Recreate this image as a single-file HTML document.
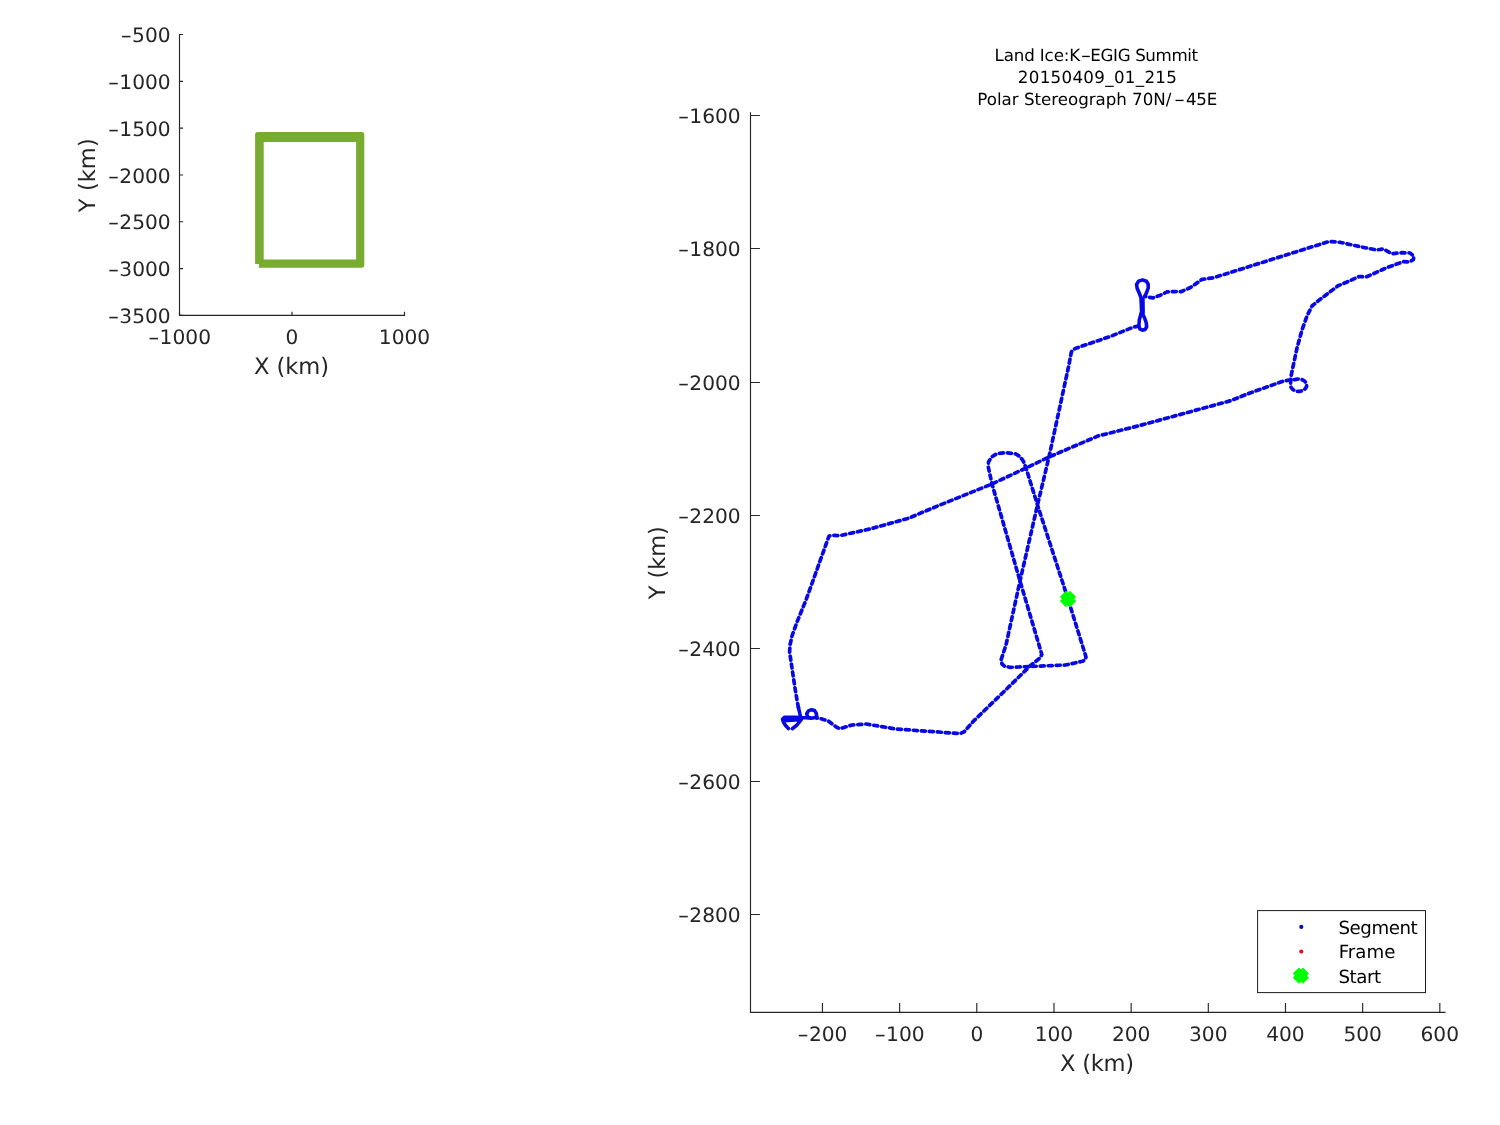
<!DOCTYPE html>
<html lang="en"><head><meta charset="utf-8"><title>Land Ice:K-EGIG Summit 20150409_01_215</title>
<style>
html,body{margin:0;padding:0;background:#fff;}
body{width:1500px;height:1125px;overflow:hidden;}
svg{display:block;will-change:transform;}
text{font-family:"DejaVu Sans", "Liberation Sans", sans-serif;text-rendering:geometricPrecision;}
.tk{font-size:19.8px;fill:#262626;}
.lb{font-size:22.6px;fill:#262626;}
.tt{font-size:16.7px;fill:#000;}
.lg{font-size:18.2px;fill:#000;}
.ax{stroke:#262626;stroke-width:1.15;fill:none;}
</style></head><body>
<svg width="1500" height="1125" viewBox="0 0 1500 1125">
<rect x="0" y="0" width="1500" height="1125" fill="#ffffff"/>
<g id="overview">
<path class="ax" d="M179.5 33.9 V315.4 H405.1"/>
<path class="ax" d="M179.5 34.50 h3.6M179.5 81.32 h3.6M179.5 128.13 h3.6M179.5 174.95 h3.6M179.5 221.77 h3.6M179.5 268.58 h3.6M179.5 315.40 h3.6M179.50 315.4 v-3.6M292.00 315.4 v-3.6M404.50 315.4 v-3.6"/>
<text class="tk" y="42.1"><tspan x="120.5" textLength="11.6" lengthAdjust="spacingAndGlyphs">-</tspan><tspan x="132.1" textLength="38.5" lengthAdjust="spacingAndGlyphs">500</tspan></text>
<text class="tk" y="89.0"><tspan x="107.7" textLength="11.6" lengthAdjust="spacingAndGlyphs">-</tspan><tspan x="119.3" textLength="51.4" lengthAdjust="spacingAndGlyphs">1000</tspan></text>
<text class="tk" y="135.8"><tspan x="107.7" textLength="11.6" lengthAdjust="spacingAndGlyphs">-</tspan><tspan x="119.3" textLength="51.4" lengthAdjust="spacingAndGlyphs">1500</tspan></text>
<text class="tk" y="182.6"><tspan x="107.7" textLength="11.6" lengthAdjust="spacingAndGlyphs">-</tspan><tspan x="119.3" textLength="51.4" lengthAdjust="spacingAndGlyphs">2000</tspan></text>
<text class="tk" y="229.4"><tspan x="107.7" textLength="11.6" lengthAdjust="spacingAndGlyphs">-</tspan><tspan x="119.3" textLength="51.4" lengthAdjust="spacingAndGlyphs">2500</tspan></text>
<text class="tk" y="276.2"><tspan x="107.7" textLength="11.6" lengthAdjust="spacingAndGlyphs">-</tspan><tspan x="119.3" textLength="51.4" lengthAdjust="spacingAndGlyphs">3000</tspan></text>
<text class="tk" y="323.0"><tspan x="107.7" textLength="11.6" lengthAdjust="spacingAndGlyphs">-</tspan><tspan x="119.3" textLength="51.4" lengthAdjust="spacingAndGlyphs">3500</tspan></text>
<text class="tk" y="344.4"><tspan x="148.0" textLength="11.6" lengthAdjust="spacingAndGlyphs">-</tspan><tspan x="159.6" textLength="51.4" lengthAdjust="spacingAndGlyphs">1000</tspan></text>
<text class="tk" x="285.6" y="344.4" textLength="12.8" lengthAdjust="spacingAndGlyphs">0</text>
<text class="tk" x="378.8" y="344.4" textLength="51.4" lengthAdjust="spacingAndGlyphs">1000</text>
<text class="lb" y="373.8"><tspan x="253.89" textLength="75.17" lengthAdjust="spacing">X (km)</tspan></text>
<text class="lb" transform="translate(94.8 0) rotate(-90)" y="0"><tspan x="-212.16" textLength="73.88" lengthAdjust="spacing">Y (km)</tspan></text>
<path fill="#77AC30" fill-rule="evenodd" d="M257.7 132.1 H361.7 Q364.3 132.1 364.3 134.7 V265.1 Q364.3 267.7 361.7 267.7 H258.9 V263.9 H255.1 V134.7 Q255.1 132.1 257.7 132.1 Z M263.7 141.9 V259.4 H356.1 V141.9 Z"/>
</g>
<g id="map">
<path class="ax" d="M750.5 112.2 V1012.4 H1445.6"/>
<path class="ax" d="M750.5 115.50 h9.4M750.5 248.45 h9.4M750.5 382.45 h9.4M750.5 515.45 h9.4M750.5 648.45 h9.4M750.5 781.45 h9.4M750.5 914.45 h9.4M822.46 1012.4 v-9.4M899.63 1012.4 v-9.4M976.80 1012.4 v-9.4M1053.97 1012.4 v-9.4M1131.14 1012.4 v-9.4M1208.31 1012.4 v-9.4M1285.48 1012.4 v-9.4M1362.65 1012.4 v-9.4M1439.82 1012.4 v-9.4"/>
<text class="tk" y="123.2"><tspan x="677.7" textLength="11.6" lengthAdjust="spacingAndGlyphs">-</tspan><tspan x="689.3" textLength="51.4" lengthAdjust="spacingAndGlyphs">1600</tspan></text>
<text class="tk" y="256.1"><tspan x="677.7" textLength="11.6" lengthAdjust="spacingAndGlyphs">-</tspan><tspan x="689.3" textLength="51.4" lengthAdjust="spacingAndGlyphs">1800</tspan></text>
<text class="tk" y="390.1"><tspan x="677.7" textLength="11.6" lengthAdjust="spacingAndGlyphs">-</tspan><tspan x="689.3" textLength="51.4" lengthAdjust="spacingAndGlyphs">2000</tspan></text>
<text class="tk" y="523.1"><tspan x="677.7" textLength="11.6" lengthAdjust="spacingAndGlyphs">-</tspan><tspan x="689.3" textLength="51.4" lengthAdjust="spacingAndGlyphs">2200</tspan></text>
<text class="tk" y="656.1"><tspan x="677.7" textLength="11.6" lengthAdjust="spacingAndGlyphs">-</tspan><tspan x="689.3" textLength="51.4" lengthAdjust="spacingAndGlyphs">2400</tspan></text>
<text class="tk" y="789.1"><tspan x="677.7" textLength="11.6" lengthAdjust="spacingAndGlyphs">-</tspan><tspan x="689.3" textLength="51.4" lengthAdjust="spacingAndGlyphs">2600</tspan></text>
<text class="tk" y="922.1"><tspan x="677.7" textLength="11.6" lengthAdjust="spacingAndGlyphs">-</tspan><tspan x="689.3" textLength="51.4" lengthAdjust="spacingAndGlyphs">2800</tspan></text>
<text class="tk" y="1040.8"><tspan x="797.3" textLength="11.6" lengthAdjust="spacingAndGlyphs">-</tspan><tspan x="808.9" textLength="38.5" lengthAdjust="spacingAndGlyphs">200</tspan></text>
<text class="tk" y="1040.8"><tspan x="874.5" textLength="11.6" lengthAdjust="spacingAndGlyphs">-</tspan><tspan x="886.1" textLength="38.5" lengthAdjust="spacingAndGlyphs">100</tspan></text>
<text class="tk" x="970.4" y="1040.8" textLength="12.8" lengthAdjust="spacingAndGlyphs">0</text>
<text class="tk" x="1034.7" y="1040.8" textLength="38.5" lengthAdjust="spacingAndGlyphs">100</text>
<text class="tk" x="1111.9" y="1040.8" textLength="38.5" lengthAdjust="spacingAndGlyphs">200</text>
<text class="tk" x="1189.0" y="1040.8" textLength="38.5" lengthAdjust="spacingAndGlyphs">300</text>
<text class="tk" x="1266.2" y="1040.8" textLength="38.5" lengthAdjust="spacingAndGlyphs">400</text>
<text class="tk" x="1343.4" y="1040.8" textLength="38.5" lengthAdjust="spacingAndGlyphs">500</text>
<text class="tk" x="1420.5" y="1040.8" textLength="38.5" lengthAdjust="spacingAndGlyphs">600</text>
<text class="lb" y="1071"><tspan x="1060.09" textLength="73.96" lengthAdjust="spacing">X (km)</tspan></text>
<text class="lb" transform="translate(664.8 0) rotate(-90)" y="0"><tspan x="-599.36" textLength="73.27" lengthAdjust="spacing">Y (km)</tspan></text>
<text class="tt" y="60.5"><tspan x="994.56" textLength="85.64" lengthAdjust="spacing">Land Ice:K</tspan><tspan x="1080.77" textLength="10.46" lengthAdjust="spacingAndGlyphs">-</tspan><tspan x="1090.36" textLength="107.78" lengthAdjust="spacing">EGIG Summit</tspan></text>
<text class="tt" y="83.2"><tspan x="1017.76" textLength="159.14" lengthAdjust="spacing">20150409_01_215</tspan></text>
<text class="tt" y="105.1"><tspan x="977.36" textLength="194.02" lengthAdjust="spacing">Polar Stereograph 70N/</tspan><tspan x="1173.90" textLength="11.05" lengthAdjust="spacingAndGlyphs">-</tspan><tspan x="1185.99" textLength="31.29" lengthAdjust="spacing">45E</tspan></text>
<path id="segment" fill="none" stroke="#0808e4" stroke-width="3.7" stroke-linecap="round" stroke-linejoin="round" stroke-dasharray="4.0 4.0" d="M1068.0 599.0 L1037.5 505.0 L1026.0 468.0 L1023.5 461.5 L1020.5 457.0 L1016.0 454.0 L1006.0 452.6 L997.0 453.6 L991.5 457.0 L988.5 462.0 L988.3 467.0 L992.0 484.0 L1020.0 581.0 L1040.5 650.0 L1041.8 654.5 L1040.0 658.0 L1030.0 666.0 L1005.6 690.0 L973.6 721.0 L964.2 731.8 L960.0 733.6 L896.0 729.0 L866.0 724.0 L852.0 725.0 L840.0 728.7 L836.7 727.3 L828.3 721.0 L820.8 718.7 L817.0 718.0 M798.4 707.5 L797.0 700.0 L795.3 690.0 L789.6 652.0 L790.0 645.0 L792.0 636.0 L797.0 622.0 L806.0 600.0 L824.0 550.0 L829.0 536.0 L833.0 535.4 L840.0 535.6 L870.0 529.0 L908.0 518.4 L940.0 505.0 L992.0 484.0 L1026.0 468.0 L1049.0 457.0 L1098.0 436.0 L1138.0 426.0 L1230.0 400.9 L1250.0 393.0 L1282.0 381.6 L1290.0 379.8 L1295.2 379.6 L1297.6 379.0 L1300.1 379.1 L1302.5 379.8 L1304.5 381.0 L1305.9 382.6 L1306.6 384.4 L1306.6 386.4 L1305.7 388.2 L1304.1 389.7 L1302.0 390.8 L1299.6 391.4 L1297.1 391.3 L1294.7 390.6 L1292.7 389.4 L1291.3 387.8 L1290.6 386.0 L1290.6 384.0 L1290.9 376.7 L1297.0 348.0 L1302.0 330.0 L1307.0 316.0 L1312.0 306.0 L1318.0 301.0 L1338.0 285.8 L1348.7 281.3 L1358.7 276.7 L1366.7 276.7 L1386.7 267.7 L1403.3 261.7 L1409.3 262.0 L1413.3 259.7 L1414.0 256.3 L1410.0 253.0 L1402.0 252.7 L1392.0 253.7 L1383.3 249.0 L1376.7 250.0 L1360.0 246.7 L1340.0 242.3 L1329.0 241.5 L1213.4 277.8 L1202.0 279.4 L1190.0 287.8 L1181.0 291.7 L1174.0 291.5 L1167.0 291.9 L1159.0 295.8 L1152.7 297.9 L1148.5 297.2 L1144.9 296.3 M1138.6 326.2 L1134.0 326.9 L1110.0 336.6 L1076.0 348.2 L1072.9 349.8 L1071.3 352.2 L1068.7 366.0 L1049.2 456.0 L1037.5 505.0 L1020.0 581.0 L1006.0 645.0 L1003.0 654.0 L1001.0 660.0 L1002.0 664.0 L1005.0 666.5 L1010.4 667.3 L1018.0 667.0 L1065.6 665.0 L1082.4 661.3 L1085.5 659.5 L1086.0 657.0 L1068.0 599.0"/>
<path id="segment-turns" fill="none" stroke="#0808e4" stroke-width="3.6" stroke-linecap="round" stroke-linejoin="round" d="M817.0 718.0 L816.3 713.4 L814.6 710.6 L811.5 709.7 L808.5 710.9 L806.7 713.8 L807.6 717.0 L811.3 718.3 L815.0 717.6 L817.0 718.0 M811.3 718.3 L806.0 717.7 L795.0 717.3 L784.5 717.3 L782.5 719.3 L783.4 722.0 L785.6 725.6 L788.4 728.5 M783.5 720.6 L799.5 719.8 M792.4 728.7 L797.0 725.0 L801.4 719.4 L800.0 714.2 L798.4 707.5 M1144.9 296.3 L1146.6 292.5 L1148.2 288.0 L1148.2 284.2 L1146.4 281.2 L1142.6 279.9 L1138.6 281.1 L1136.6 284.5 L1137.2 288.5 L1139.0 292.5 L1141.0 297.5 L1141.7 313.5 M1142.9 298.5 L1143.1 313.0 M1142.2 313.0 L1144.6 318.0 L1146.3 323.0 L1146.6 327.0 L1145.0 329.6 L1142.5 330.2 L1140.0 329.2 L1138.9 326.0 L1139.3 320.0 L1141.2 313.0"/>
<path d="M1062.9 593.9 L1073.1 604.1 M1062.9 604.1 L1073.1 593.9" fill="none" stroke="#00ff00" stroke-width="8.6" stroke-linecap="butt"/>
<rect x="1257.6" y="910.6" width="167.9" height="82.0" fill="#fff" stroke="#1c1c1c" stroke-width="1"/>
<circle cx="1301.3" cy="926.9" r="2.1" fill="#0c0cb8"/>
<circle cx="1301.3" cy="951.6" r="2.1" fill="#e0102a"/>
<path d="M1295.8 970.5 L1306.0 980.7 M1295.8 980.7 L1306.0 970.5" fill="none" stroke="#00ff00" stroke-width="8.6" stroke-linecap="butt"/>
<text class="lg" y="933.7"><tspan x="1338.53" textLength="79.16" lengthAdjust="spacing">Segment</tspan></text>
<text class="lg" y="958.3"><tspan x="1338.72" textLength="56.69" lengthAdjust="spacing">Frame</tspan></text>
<text class="lg" y="982.8"><tspan x="1338.53" textLength="42.59" lengthAdjust="spacing">Start</tspan></text>
</g>
</svg>
</body></html>
